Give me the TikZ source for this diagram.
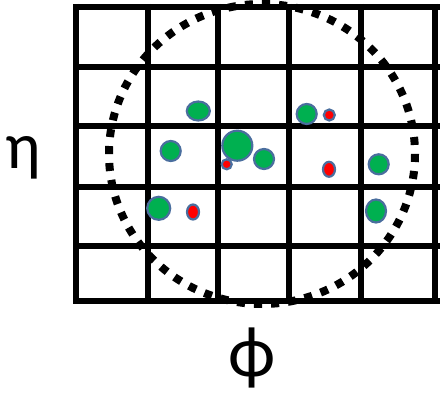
\documentclass[tikz,border=0pt]{standalone}
\usepackage{fontspec}
\setmainfont{Carlito}
\usetikzlibrary{shapes.geometric}
\definecolor{pgreen}{HTML}{00B050}
\definecolor{pred}{HTML}{FF0000}
\definecolor{pedge}{HTML}{4A6E9E}
\tikzset{
  gridline/.style={line width=6pt,black},
  cone/.style={line width=8pt,black,dash pattern=on 8pt off 9pt},
  part/.style={ellipse,draw=pedge,line width=2.2pt,inner sep=0pt,outer sep=0pt},
  gpart/.style={part,fill=pgreen},
  rpart/.style={part,fill=pred},
  axislabel/.style={inner sep=0pt,font=\fontsize{#1}{#1}\selectfont}
}
\begin{document}
\begin{tikzpicture}[x=1pt,y=-1pt]
\useasboundingbox (0,0) rectangle (444,393);
% grid
\foreach \x in {76,148,218,289,361,435} \draw[gridline] (\x,4) -- (\x,304);
\foreach \y in {7,67,126,187,246,301} \draw[gridline] (73,\y) -- (440,\y);
% cone
\draw[cone] (262,154) ellipse [x radius=153, y radius=150];
% particles
\node[gpart,minimum width=23pt,minimum height=19pt] (g1) at (198.3,111) {};
\node[gpart,minimum width=20pt,minimum height=20pt] (g2) at (306.7,114) {};
\node[rpart,minimum width=11pt,minimum height=11pt] (r1) at (329.3,115) {};
\node[gpart,minimum width=30pt,minimum height=30pt] (g3) at (237.3,145.7) {};
\node[rpart,minimum width=10pt,minimum height=10pt] (r2) at (226.7,164.3) {};
\node[gpart,minimum width=20pt,minimum height=20pt] (g4) at (264,159) {};
\node[gpart,minimum width=20pt,minimum height=20pt] (g5) at (170.7,151) {};
\node[rpart,minimum width=12pt,minimum height=15pt] (r3) at (329,169.3) {};
\node[gpart,minimum width=20pt,minimum height=20pt] (g6) at (378.7,164.3) {};
\node[gpart,minimum width=23pt,minimum height=23pt] (g7) at (158.7,208.3) {};
\node[rpart,minimum width=12pt,minimum height=15pt] (r4) at (193,212) {};
\node[gpart,minimum width=20pt,minimum height=23pt] (g8) at (376,211) {};
% labels
\node[axislabel=66] (eta) at (23,158) {η};
\node[axislabel=72] (phi) at (252,358) {ϕ};
\end{tikzpicture}
\end{document}
